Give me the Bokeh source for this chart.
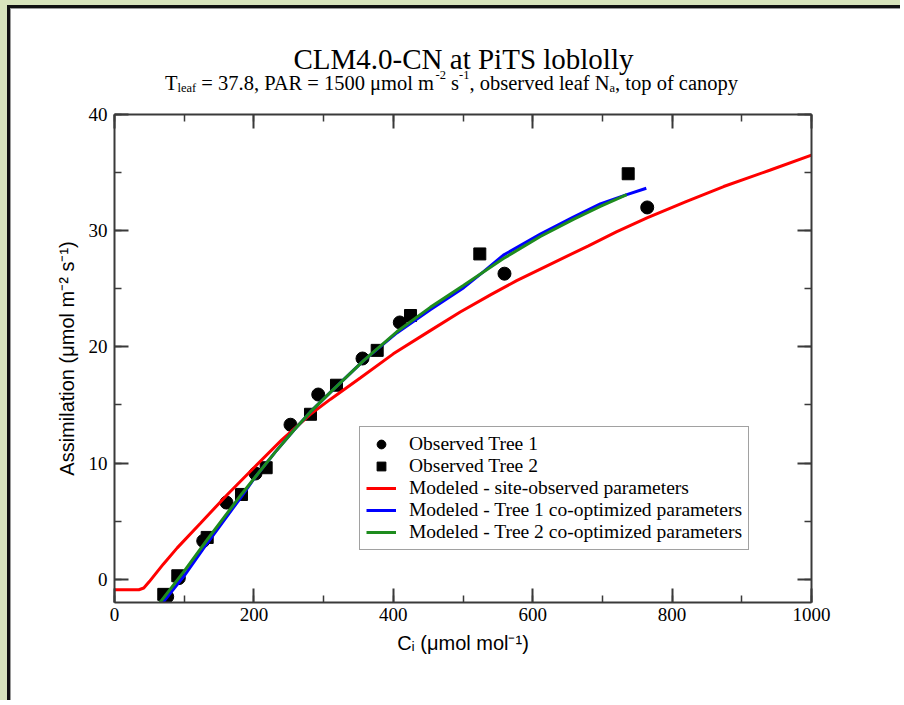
from bokeh.plotting import figure
from bokeh.layouts import column
from bokeh.models import (LinearAxis, SingleIntervalTicker, CustomJSTickFormatter,
                          Legend, LegendItem, Label, Range1d)
from bokeh.embed import file_html
from bokeh.resources import INLINE

# ---------------- data ----------------
title_text = "CLM4.0-CN at PiTS loblolly"
x_label_text = "Cᵢ (μmol mol⁻¹)"
y_label_text = "Assimilation (μmol m⁻² s⁻¹)"
legend_labels = ["Observed Tree 1", "Observed Tree 2",
                 "Modeled - site-observed parameters",
                 "Modeled - Tree 1 co-optimized parameters",
                 "Modeled - Tree 2 co-optimized parameters"]

tree1_ci = [75.6, 92.3, 127.3, 160.7, 202.3, 252.5, 292.3, 355.8, 409.3, 559.5, 764.3]
tree1_a = [-1.5, 0.1, 3.3, 6.6, 9.1, 13.3, 15.9, 19.0, 22.1, 26.3, 32.0]

tree2_ci = [70.7, 90.8, 133.0, 182.2, 217.6, 281.2, 318.5, 376.9, 424.7, 524.1, 737.0]
tree2_a = [-1.3, 0.3, 3.6, 7.3, 9.6, 14.2, 16.7, 19.7, 22.7, 28.0, 34.9]

site_ci = [0, 35, 42, 50, 70, 90, 123, 162, 200, 240, 281, 310, 353, 400, 453, 496,
           540, 577, 611, 680, 720, 764, 820, 874, 940, 1000]
site_a = [-0.9, -0.9, -0.75, -0.2, 1.3, 2.7, 4.8, 7.3, 9.6, 12.0, 14.2, 15.5, 17.35,
          19.4, 21.4, 23.0, 24.5, 25.7, 26.7, 28.7, 29.9, 31.1, 32.5, 33.8, 35.2, 36.5]

opt1_ci = [68, 100, 133, 182, 202, 230, 257, 281, 310, 357, 405, 453, 501, 530, 558,
           611, 659, 697, 735, 763]
opt1_a = [-2.1, 0.3, 3.1, 7.1, 8.8, 10.9, 12.8, 14.4, 16.1, 18.8, 21.2, 23.2, 25.1,
          26.5, 27.9, 29.7, 31.2, 32.3, 33.1, 33.65]

opt2_ci = [64, 100, 133, 182, 202, 230, 257, 281, 310, 357, 405, 453, 501, 558, 611,
           659, 697, 735]
opt2_a = [-2.1, 0.7, 3.4, 7.3, 8.8, 10.9, 12.8, 14.4, 16.1, 18.8, 21.3, 23.4, 25.3,
          27.6, 29.5, 31.0, 32.1, 33.1]

x_tick_step = 200
y_tick_step = 10

# ---------------- font metrics (to compose sub/superscripts) ----------------
SERIF_W = {' ': 250, '(': 333, ')': 333, ',': 250, '-': 333, '.': 250, '=': 564,
           'A': 722, 'C': 667, 'L': 611, 'M': 889, 'N': 722, 'P': 556, 'R': 667,
           'S': 556, 'T': 611, 'a': 444, 'b': 500, 'c': 444, 'd': 500, 'e': 444,
           'f': 333, 'i': 278, 'l': 278, 'm': 778, 'n': 500, 'o': 500, 'p': 500,
           'r': 333, 's': 389, 't': 278, 'v': 500, 'y': 500, 'z': 444, 'μ': 520}


def text_w(s, size, table):
    return sum(table.get(c, 500) for c in s) / 1000.0 * size


SERIF = "Liberation Serif"
SANS = "Liberation Sans"
AXIS_COLOR = "#3a3a3a"
W = 900
HDR_H = 105
MAIN_H = 595
BORDER_L, BORDER_R = 114, 89
V_SHIFT = 10  # measured vertical offset of the header frame

# ---------------- header (title + subtitle) ----------------
hdr = figure(width=W, height=HDR_H, x_range=Range1d(0, W - BORDER_L - BORDER_R),
             y_range=Range1d(0, HDR_H),
             output_backend="svg", toolbar_location=None, title=None,
             x_axis_location=None, y_axis_location=None,
             min_border_left=BORDER_L, min_border_right=BORDER_R,
             min_border_top=0, min_border_bottom=0)
hdr.xgrid.visible = False
hdr.ygrid.visible = False
hdr.outline_line_color = None
hdr.background_fill_alpha = 0
hdr.border_fill_alpha = 0


def put(text, px, py, size, font, align="left"):
    # anchored at the header frame's bottom-left corner, offsets in pixels
    hdr.add_layout(Label(x=0, y=0, x_offset=px - BORDER_L,
                         y_offset=HDR_H - py + V_SHIFT,
                         text=text, text_font=font, text_font_size=f"{size}px",
                         text_color="black", text_align=align,
                         text_baseline="alphabetic"))


put(title_text, 463, 68, 29, SERIF, align="center")

BIG, SMALL = 20.5, 12.5
sub_pieces = [("T", BIG, 0), ("leaf", SMALL, -5), (" = 37.8, PAR = 1500 μmol m", BIG, 0),
              ("-2", SMALL, 8), (" s", BIG, 0), ("-1", SMALL, 8),
              (", observed leaf N", BIG, 0), ("a", SMALL, -5), (", top of canopy", BIG, 0)]
total = sum(text_w(t, s, SERIF_W) for t, s, _ in sub_pieces)
cx = 451 - total / 2
for t, s, dy in sub_pieces:
    if t.startswith(" "):
        cx += text_w(" ", s, SERIF_W)
        t = t[1:]
    put(t, cx, 92 - dy, s, SERIF)
    cx += text_w(t, s, SERIF_W)

# ---------------- main figure ----------------
p = figure(width=W, height=MAIN_H, x_range=Range1d(0, 1000), y_range=Range1d(-2, 40),
           output_backend="svg", toolbar_location=None, title=None,
           min_border_left=BORDER_L, min_border_right=BORDER_R,
           min_border_top=114 - HDR_H, min_border_bottom=98)
p.xgrid.visible = False
p.ygrid.visible = False
p.outline_line_color = None
p.background_fill_color = "white"
p.border_fill_alpha = 0


def style_axis(ax, show_labels, standoff):
    ax.axis_line_color = AXIS_COLOR
    ax.axis_line_width = 2
    ax.major_tick_line_color = AXIS_COLOR
    ax.minor_tick_line_color = AXIS_COLOR
    ax.major_tick_line_width = 2
    ax.minor_tick_line_width = 1.5
    ax.major_tick_in = 14
    ax.major_tick_out = 0
    ax.minor_tick_in = 7
    ax.minor_tick_out = 0
    ax.major_label_text_font = SERIF
    ax.major_label_text_font_size = "19px"
    ax.major_label_text_color = "black"
    ax.major_label_standoff = standoff
    if not show_labels:
        ax.formatter = CustomJSTickFormatter(code="return ''")
        ax.major_label_text_font_size = "1px"


p.xaxis.ticker = SingleIntervalTicker(interval=x_tick_step, num_minor_ticks=2)
p.yaxis.ticker = SingleIntervalTicker(interval=y_tick_step, num_minor_ticks=2)
style_axis(p.xaxis[0], True, 5)
style_axis(p.yaxis[0], True, 7)
for ax, txt, so in ((p.xaxis[0], x_label_text, 8), (p.yaxis[0], y_label_text, 8)):
    ax.axis_label = txt
    ax.axis_label_text_font = SANS
    ax.axis_label_text_font_size = "20px"
    ax.axis_label_text_font_style = "normal"
    ax.axis_label_text_color = "black"
    ax.axis_label_standoff = so

top_ax = LinearAxis(ticker=SingleIntervalTicker(interval=x_tick_step, num_minor_ticks=2))
right_ax = LinearAxis(ticker=SingleIntervalTicker(interval=y_tick_step, num_minor_ticks=2))
style_axis(top_ax, False, 0)
style_axis(right_ax, False, 0)
p.add_layout(top_ax, "above")
p.add_layout(right_ax, "right")

r_t1 = p.scatter(tree1_ci, tree1_a, marker="circle", size=13, color="black")
r_t2 = p.scatter(tree2_ci, tree2_a, marker="square", size=12, color="black")
r_site = p.line(site_ci, site_a, line_color="#ff0000", line_width=3)
r_o1 = p.line(opt1_ci, opt1_a, line_color="#0000ff", line_width=3)
r_o2 = p.line(opt2_ci, opt2_a, line_color="#1e8c1e", line_width=3)

legend = Legend(items=[LegendItem(label=legend_labels[0], renderers=[r_t1]),
                       LegendItem(label=legend_labels[1], renderers=[r_t2]),
                       LegendItem(label=legend_labels[2], renderers=[r_site]),
                       LegendItem(label=legend_labels[3], renderers=[r_o1]),
                       LegendItem(label=legend_labels[4], renderers=[r_o2])],
                location=(245, 52))
legend.label_text_font = SERIF
legend.label_text_font_size = "19.5px"
legend.label_text_color = "black"
legend.glyph_width = 30
legend.glyph_height = 22
legend.label_height = 20
legend.label_standoff = 13
legend.padding = 6
legend.spacing = 0
legend.margin = 0
legend.border_line_color = "#444444"
legend.border_line_width = 1.5
legend.background_fill_color = "white"
legend.background_fill_alpha = 1
p.add_layout(legend)

layout = column(hdr, p, spacing=0)
layout.styles = {"box-shadow": "inset 7px 5px 0 0 #d8e4bc, inset 10px 8px 0 0 #111111, "
                               "inset 11px 9px 0 0 #9a9a9a"}

open("out.html", "w").write(file_html(layout, INLINE))
